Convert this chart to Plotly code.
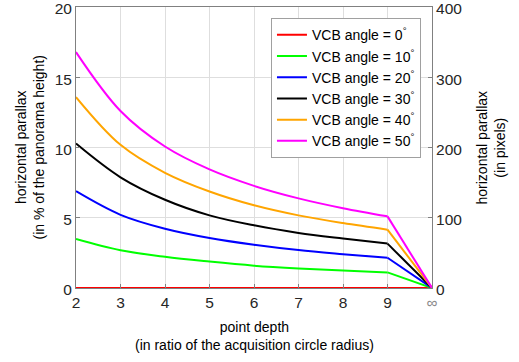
import plotly.graph_objects as go

depth = [2, 3, 4, 5, 6, 7, 8, 9]
angles = [0, 10, 20, 30, 40, 50]
colors = ["#ff0000", "#00ff00", "#0000ff", "#000000", "#ffa500", "#ff00ff"]
parallax = {
    0:  [0, 0, 0, 0, 0, 0, 0, 0],
    10: [3.49, 2.69, 2.22, 1.88, 1.59, 1.39, 1.24, 1.11],
    20: [6.89, 5.21, 4.22, 3.56, 3.08, 2.70, 2.41, 2.15],
    30: [10.28, 7.88, 6.28, 5.17, 4.46, 3.92, 3.52, 3.16],
    40: [13.59, 10.19, 8.20, 6.87, 5.89, 5.17, 4.62, 4.15],
    50: [16.79, 12.60, 10.07, 8.44, 7.27, 6.38, 5.68, 5.10],
}
inf_x = 10
inf_val = 0
xtick_vals = [2, 3, 4, 5, 6, 7, 8, 9, 10]
xtick_text = ["2", "3", "4", "5", "6", "7", "8", "9", '<span style="color:#8a8a8a">∞</span>']

fig = go.Figure()
for a, c in zip(angles, colors):
    ys = parallax[a]
    fig.add_trace(go.Scatter(x=depth, y=ys, mode="lines",
                             line=dict(color=c, width=2, shape="spline", smoothing=1.0),
                             name=f"VCB angle = {a}<sup>°</sup>", legendgroup=str(a)))
    fig.add_trace(go.Scatter(x=[depth[-1], inf_x], y=[ys[-1], inf_val], mode="lines",
                             line=dict(color=c, width=2), showlegend=False,
                             legendgroup=str(a), hoverinfo="skip"))
fig.add_trace(go.Scatter(x=[2], y=[0], yaxis="y2", mode="markers",
                         marker=dict(opacity=0), showlegend=False, hoverinfo="skip"))

axcol = "#808080"
txt = "#262626"
fig.update_layout(
    width=519, height=362,
    margin=dict(l=76, r=87, t=7, b=74, autoexpand=False),
    plot_bgcolor="white", paper_bgcolor="white",
    font=dict(family="Liberation Sans, Arial", size=15.5, color=txt),
    xaxis=dict(range=[2, 10], tickvals=xtick_vals, ticktext=xtick_text, automargin=False,
               showgrid=True, gridcolor="#dedede", gridwidth=1, ticklabeloverflow="allow",
               showline=True, linecolor=axcol, linewidth=1, mirror=True,
               ticks="inside", ticklen=4, tickcolor=axcol, zeroline=False),
    yaxis=dict(range=[0, 20], tickvals=[0, 5, 10, 15, 20], automargin=False,
               showgrid=True, gridcolor="#dedede", gridwidth=1, ticklabeloverflow="allow",
               ticklabelshift=2,
               showline=True, linecolor=axcol, linewidth=1,
               ticks="inside", ticklen=4, tickcolor=axcol, zeroline=False),
    yaxis2=dict(range=[0, 400], tickvals=[0, 100, 200, 300, 400], overlaying="y", side="right",
                automargin=False, ticklabeloverflow="allow", ticklabelshift=2,
                showgrid=False, showline=True, linecolor=axcol, linewidth=1,
                ticks="inside", ticklen=4, tickcolor=axcol, zeroline=False),
    legend=dict(x=0.969, y=0.96, xanchor="right", yanchor="top",
                bgcolor="white", bordercolor="#a0a0a0", borderwidth=1,
                font=dict(size=14, color="#000000"), tracegroupgap=0,
                itemwidth=30),
    showlegend=True,
)
fig.add_annotation(text="horizontal parallax<br>(in % of the panorama height)",
                   xref="paper", yref="paper", x=0, y=0.5, xanchor="center", yanchor="middle",
                   xshift=-47, textangle=-90, showarrow=False, font=dict(size=14, color="#000000"))
fig.add_annotation(text="horizontal parallax<br>(in pixels)",
                   xref="paper", yref="paper", x=1, y=0.5, xanchor="center", yanchor="middle",
                   xshift=58, textangle=-90, showarrow=False, font=dict(size=14, color="#000000"))
fig.add_annotation(text="point depth<br>(in ratio of the acquisition circle radius)",
                   xref="paper", yref="paper", x=0.5, y=0, xanchor="center", yanchor="middle",
                   yshift=-48, showarrow=False, font=dict(size=14, color="#000000"))
fig.write_html("out.html", config={"displayModeBar": False},
               post_script="document.body.style.margin='0';document.body.style.padding='0';")
